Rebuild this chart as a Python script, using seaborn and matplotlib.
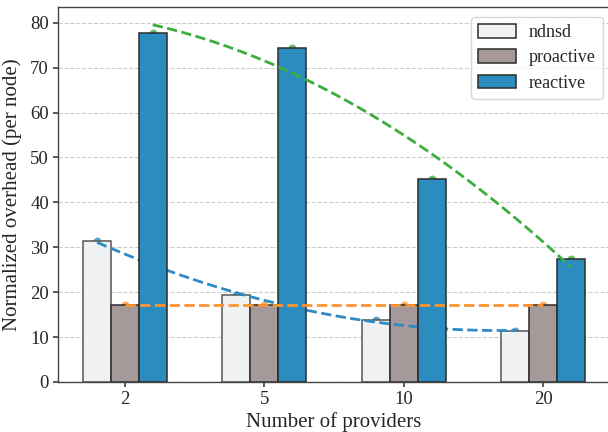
import numpy as np
import pandas as pd
import seaborn as sns
import matplotlib.pyplot as plt

# values
providers = ["2", "5", "10", "20"]
ndnsd = [31.3, 19.3, 13.9, 11.3]
proactive = [17.1, 17.1, 17.1, 17.1]
reactive = [77.7, 74.3, 45.3, 27.4]

methods = ["ndnsd", "proactive", "reactive"]
bar_colors = {"ndnsd": "#f0f1f3", "proactive": "#a59a99", "reactive": "#2b8cc0"}
fit_colors = {"ndnsd": "#2e8bc4", "proactive": "#fd9431", "reactive": "#3cae3c"}

df = pd.DataFrame({
    "providers": providers * 3,
    "method": np.repeat(methods, len(providers)),
    "overhead": ndnsd + proactive + reactive,
})

sns.set_theme(style="ticks")
plt.rcParams["font.family"] = ["Liberation Serif", "DejaVu Serif"]

fig = plt.figure(figsize=(6.08, 4.32), dpi=100)
ax = fig.add_axes([58 / 608, 50 / 432, 552 / 608, 375 / 432])

sns.barplot(data=df, x="providers", y="overhead", hue="method", order=providers,
            hue_order=methods, palette=bar_colors, saturation=1, width=0.6, gap=0,
            edgecolor="#2b2b2b", linewidth=1.1, errorbar=None, ax=ax)

# zorder: ndnsd/proactive bars < blue fit < reactive bars < other fits
bar_z = {"ndnsd": 1.0, "proactive": 1.0, "reactive": 2.0}
for name, cont in zip(methods, ax.containers):
    for p in cont.patches:
        p.set_zorder(bar_z[name])
        if name == "ndnsd":
            p.set_edgecolor("#555555")

# quadratic trend line per method, through the bar centers
offsets = {"ndnsd": -0.2, "proactive": 0.0, "reactive": 0.2}
series = {"ndnsd": ndnsd, "proactive": proactive, "reactive": reactive}
line_z = {"ndnsd": 1.5, "proactive": 3.0, "reactive": 3.0}
for name in methods:
    xs = np.arange(len(providers)) + offsets[name]
    sns.regplot(x=xs, y=series[name], order=2, ci=None, truncate=True,
                color=fit_colors[name], ax=ax,
                scatter_kws=dict(s=32, zorder=0.9, linewidths=0),
                line_kws=dict(ls="--", lw=2, zorder=line_z[name]))

ax.set_xlim(-0.48, 3.48)
ax.set_ylim(0, 83.5)
ax.set_xticks(range(len(providers)))
ax.set_xticklabels(providers)
ax.set_yticks(range(0, 81, 10))
ax.set_xlabel("Number of providers", fontsize=15, labelpad=3)
ax.set_ylabel("Normalized overhead (per node)", fontsize=15, labelpad=6)
ax.tick_params(labelsize=13.5, length=3.5, color="#444444", pad=3)
ax.yaxis.grid(True, ls="--", color="#cccccc", lw=0.8)
ax.set_axisbelow(True)
for s in ax.spines.values():
    s.set_color("#444444")
    s.set_linewidth(1.0)

handles, labels = ax.get_legend_handles_labels()
ax.legend(handles[:3], labels[:3], loc="upper right", fontsize=13,
          handlelength=2.1, handleheight=0.8, handletextpad=0.7,
          borderpad=0.4, labelspacing=0.45, borderaxespad=0,
          bbox_to_anchor=(0.987, 0.974), bbox_transform=ax.transAxes)

plt.savefig("out.png", dpi=100)
